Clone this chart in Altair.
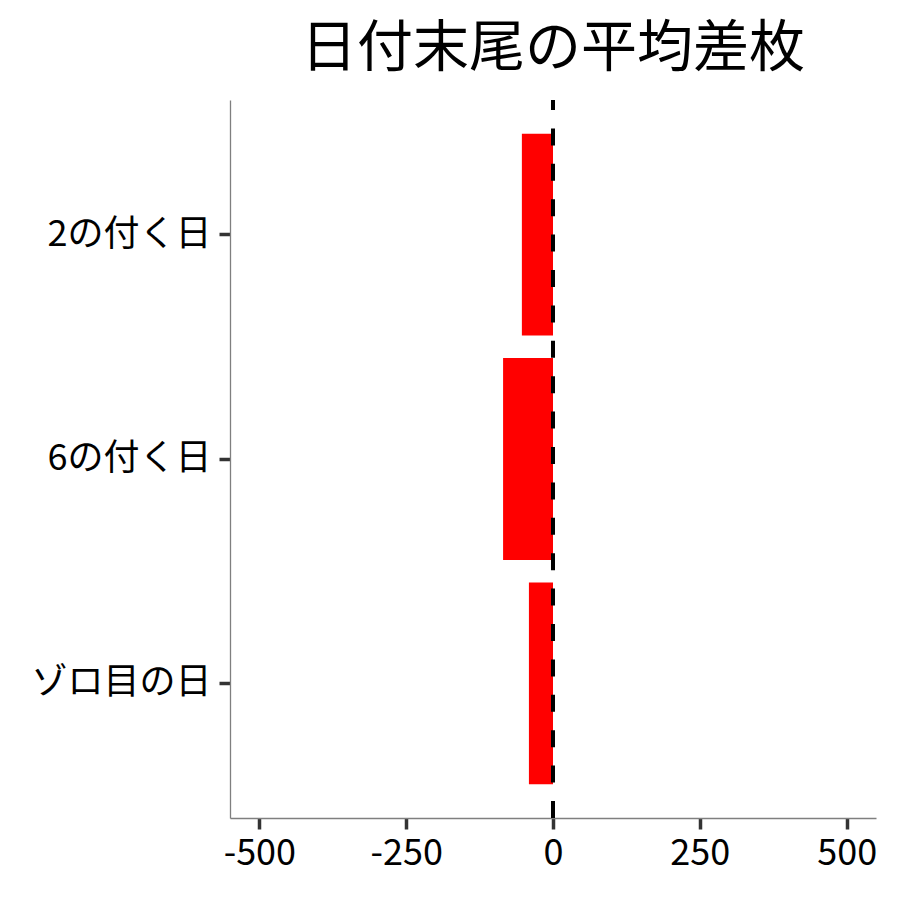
import altair as alt
import pandas as pd

categories = ["2の付く日", "6の付く日", "ゾロ目の日"]
values = [-53, -85, -41]
x_ticks = [-500, -250, 0, 250, 500]
zero_line = [0]

FONT = "Noto Sans CJK JP"

df = pd.DataFrame({"cat": categories, "val": values})
zdf = pd.DataFrame({"z": zero_line})

xscale = alt.Scale(domain=[-550, 550], nice=False, zero=False)

bars = alt.Chart(df).mark_bar(color="#ff0000").encode(
    y=alt.Y("cat:N", sort=categories,
            scale=alt.Scale(paddingInner=0.1, paddingOuter=0.15),
            axis=alt.Axis(title=None, labelFontSize=36, labelFont=FONT,
                          labelColor="#000000", domainColor="#7f7f7f",
                          domainWidth=1.3, tickColor="#333333", tickWidth=3.5,
                          tickSize=11, labelPadding=8, labelLimit=400,
                          grid=False)),
    x=alt.X("val:Q", scale=xscale,
            axis=alt.Axis(title=None, values=x_ticks, labelFontSize=36,
                          labelFont=FONT, labelColor="#000000",
                          labelExpr="toString(datum.value)",
                          domainColor="#7f7f7f", domainWidth=1.3,
                          tickColor="#333333", tickWidth=3.5, tickSize=11,
                          labelPadding=7, grid=False, labelFlush=False)),
)

rule = alt.Chart(zdf).mark_rule(color="#000000", strokeWidth=4,
                                strokeDash=[17, 18.4]).encode(
    x=alt.X("z:Q", scale=xscale),
    y=alt.value(718),
    y2=alt.value(0),
)

chart = (bars + rule).properties(
    width=646,
    height=718,
    title=alt.Title("日付末尾の平均差枚", fontSize=56, font=FONT,
                    fontWeight="normal", color="#000000", anchor="middle",
                    offset=20),
    autosize=alt.AutoSizeParams(type="none"),
    padding={"left": 222, "top": 92, "right": 16, "bottom": 70},
).configure_view(stroke=None)

chart.save("out.html", embed_options={"renderer": "svg", "actions": False})
